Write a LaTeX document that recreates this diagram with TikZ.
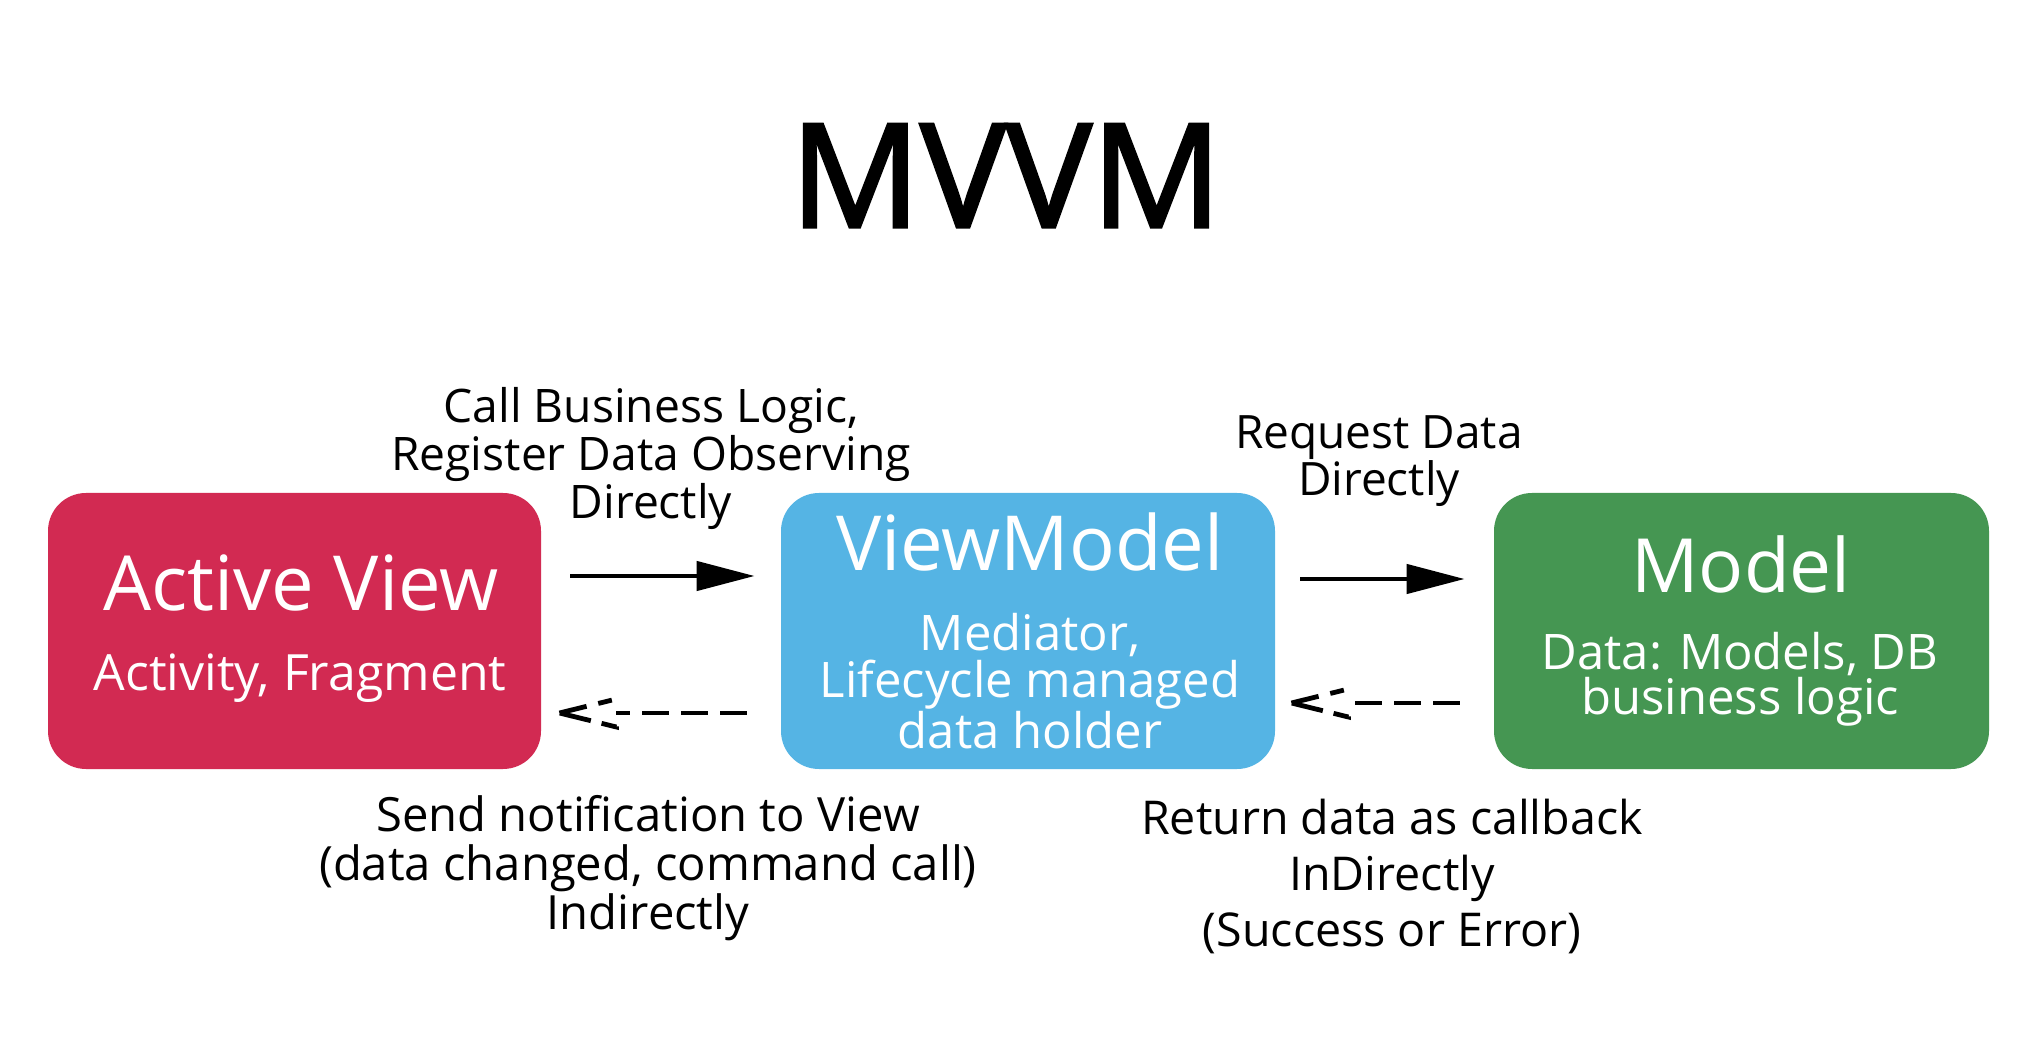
\documentclass[tikz,border=0pt]{standalone}
\usepackage{fontspec}
\setmainfont{Open Sans}
\newfontfamily\titlefont{Open Sans}[FakeBold=2.2]
\usetikzlibrary{arrows.meta,calc}

\definecolor{viewred}{HTML}{D22A52}
\definecolor{vmblue}{HTML}{55B4E4}
\definecolor{modelgreen}{HTML}{459652}

\begin{document}
\begin{tikzpicture}[
  x=0.5pt, y=-0.5pt,
  box/.style={rounded corners=19pt, inner sep=0pt, draw=none,
    minimum height=138pt},
  boxtitle/.style={anchor=base, text=white, inner sep=0pt},
  boxsub/.style={anchor=base, text=white, inner sep=0pt, align=center},
  label/.style={anchor=base, text=black, inner sep=0pt, align=center},
  callarrow/.style={line width=2.3pt, -{Triangle[length=29pt, width=14.5pt]}},
  backline/.style={line width=2.1pt, dash pattern=on 13.5pt off 6pt},
  backhead/.style={line width=2.4pt, line join=miter,
    dash pattern=on 14pt off 6pt on 7pt off 16pt on 8pt off 5.5pt on 16pt}
]
\useasboundingbox (0,0) rectangle (2030,1042);

% title
\node[anchor=base, inner sep=0pt, font={\fontsize{72pt}{76pt}\titlefont}]
  (title) at (1006,227) {MVVM};

% the three layers
\node[box, fill=viewred, minimum width=246.5pt] (av) at (294.5,631) {};
\node[box, fill=vmblue, minimum width=247pt] (vm) at (1028,631) {};
\node[box, fill=modelgreen, minimum width=247.5pt] (m) at (1741.5,631) {};

% layer names and roles (anchored at the last line's baseline)
\node[boxtitle, font={\fontsize{38pt}{42pt}\selectfont}] (avt) at (301,611) {Active View};
\node[boxsub, font={\fontsize{25pt}{27pt}\selectfont}] (avs) at (300,690) {Activity, Fragment};

\node[boxtitle, font={\fontsize{38pt}{42pt}\selectfont}] (vmt) at (1030,571) {ViewModel};
\node[boxsub, font={\fontsize{24.5pt}{23.5pt}\selectfont}] (vms) at (1030,748)
  {Mediator,\\Lifecycle managed\\data holder};

\node[boxtitle, font={\fontsize{37.4pt}{42pt}\selectfont}] (mt) at (1741,593) {Model};
\node[boxsub, font={\fontsize{24.5pt}{21pt}\selectfont}] (ms) at (1740,715)
  {Data: Models, DB\\business logic};

% connector labels
\node[label, font={\fontsize{23.1pt}{24pt}\selectfont}] (l1) at (651,519)
  {Call Business Logic,\\Register Data Observing\\Directly};
\node[label, font={\fontsize{23pt}{23.5pt}\selectfont}] (l2) at (1379,496)
  {Request Data\\Directly};
\node[label, font={\fontsize{23.6pt}{24.5pt}\selectfont}] (l3) at (648,929)
  {Send notification to View\\(data changed, command call)\\Indirectly};
\node[label, font={\fontsize{23.3pt}{28pt}\selectfont}] (l4) at (1392,946)
  {Return data as callback\\InDirectly\\(Success or Error)};

% direct calls
\draw[callarrow] ($(av.east)+(29,-55)$) -- ($(vm.west)+(-26,-55)$);
\draw[callarrow] ($(vm.east)+(25,-52)$) -- ($(m.west)+(-29,-52)$);

% indirect notifications (dashed)
\draw[backline] ($(vm.west)+(-34,82)$) -- ($(av.east)+(75,82)$);
\draw[backhead] ($(av.east)+(18,82)$) -- ++(57,-14) -- ++(0,28) -- cycle;
\draw[backline] ($(m.west)+(-34,72)$) -- ($(vm.east)+(73,72)$);
\draw[backhead] ($(vm.east)+(16,72)$) -- ++(57,-14) -- ++(0,28) -- cycle;
\end{tikzpicture}
\end{document}
